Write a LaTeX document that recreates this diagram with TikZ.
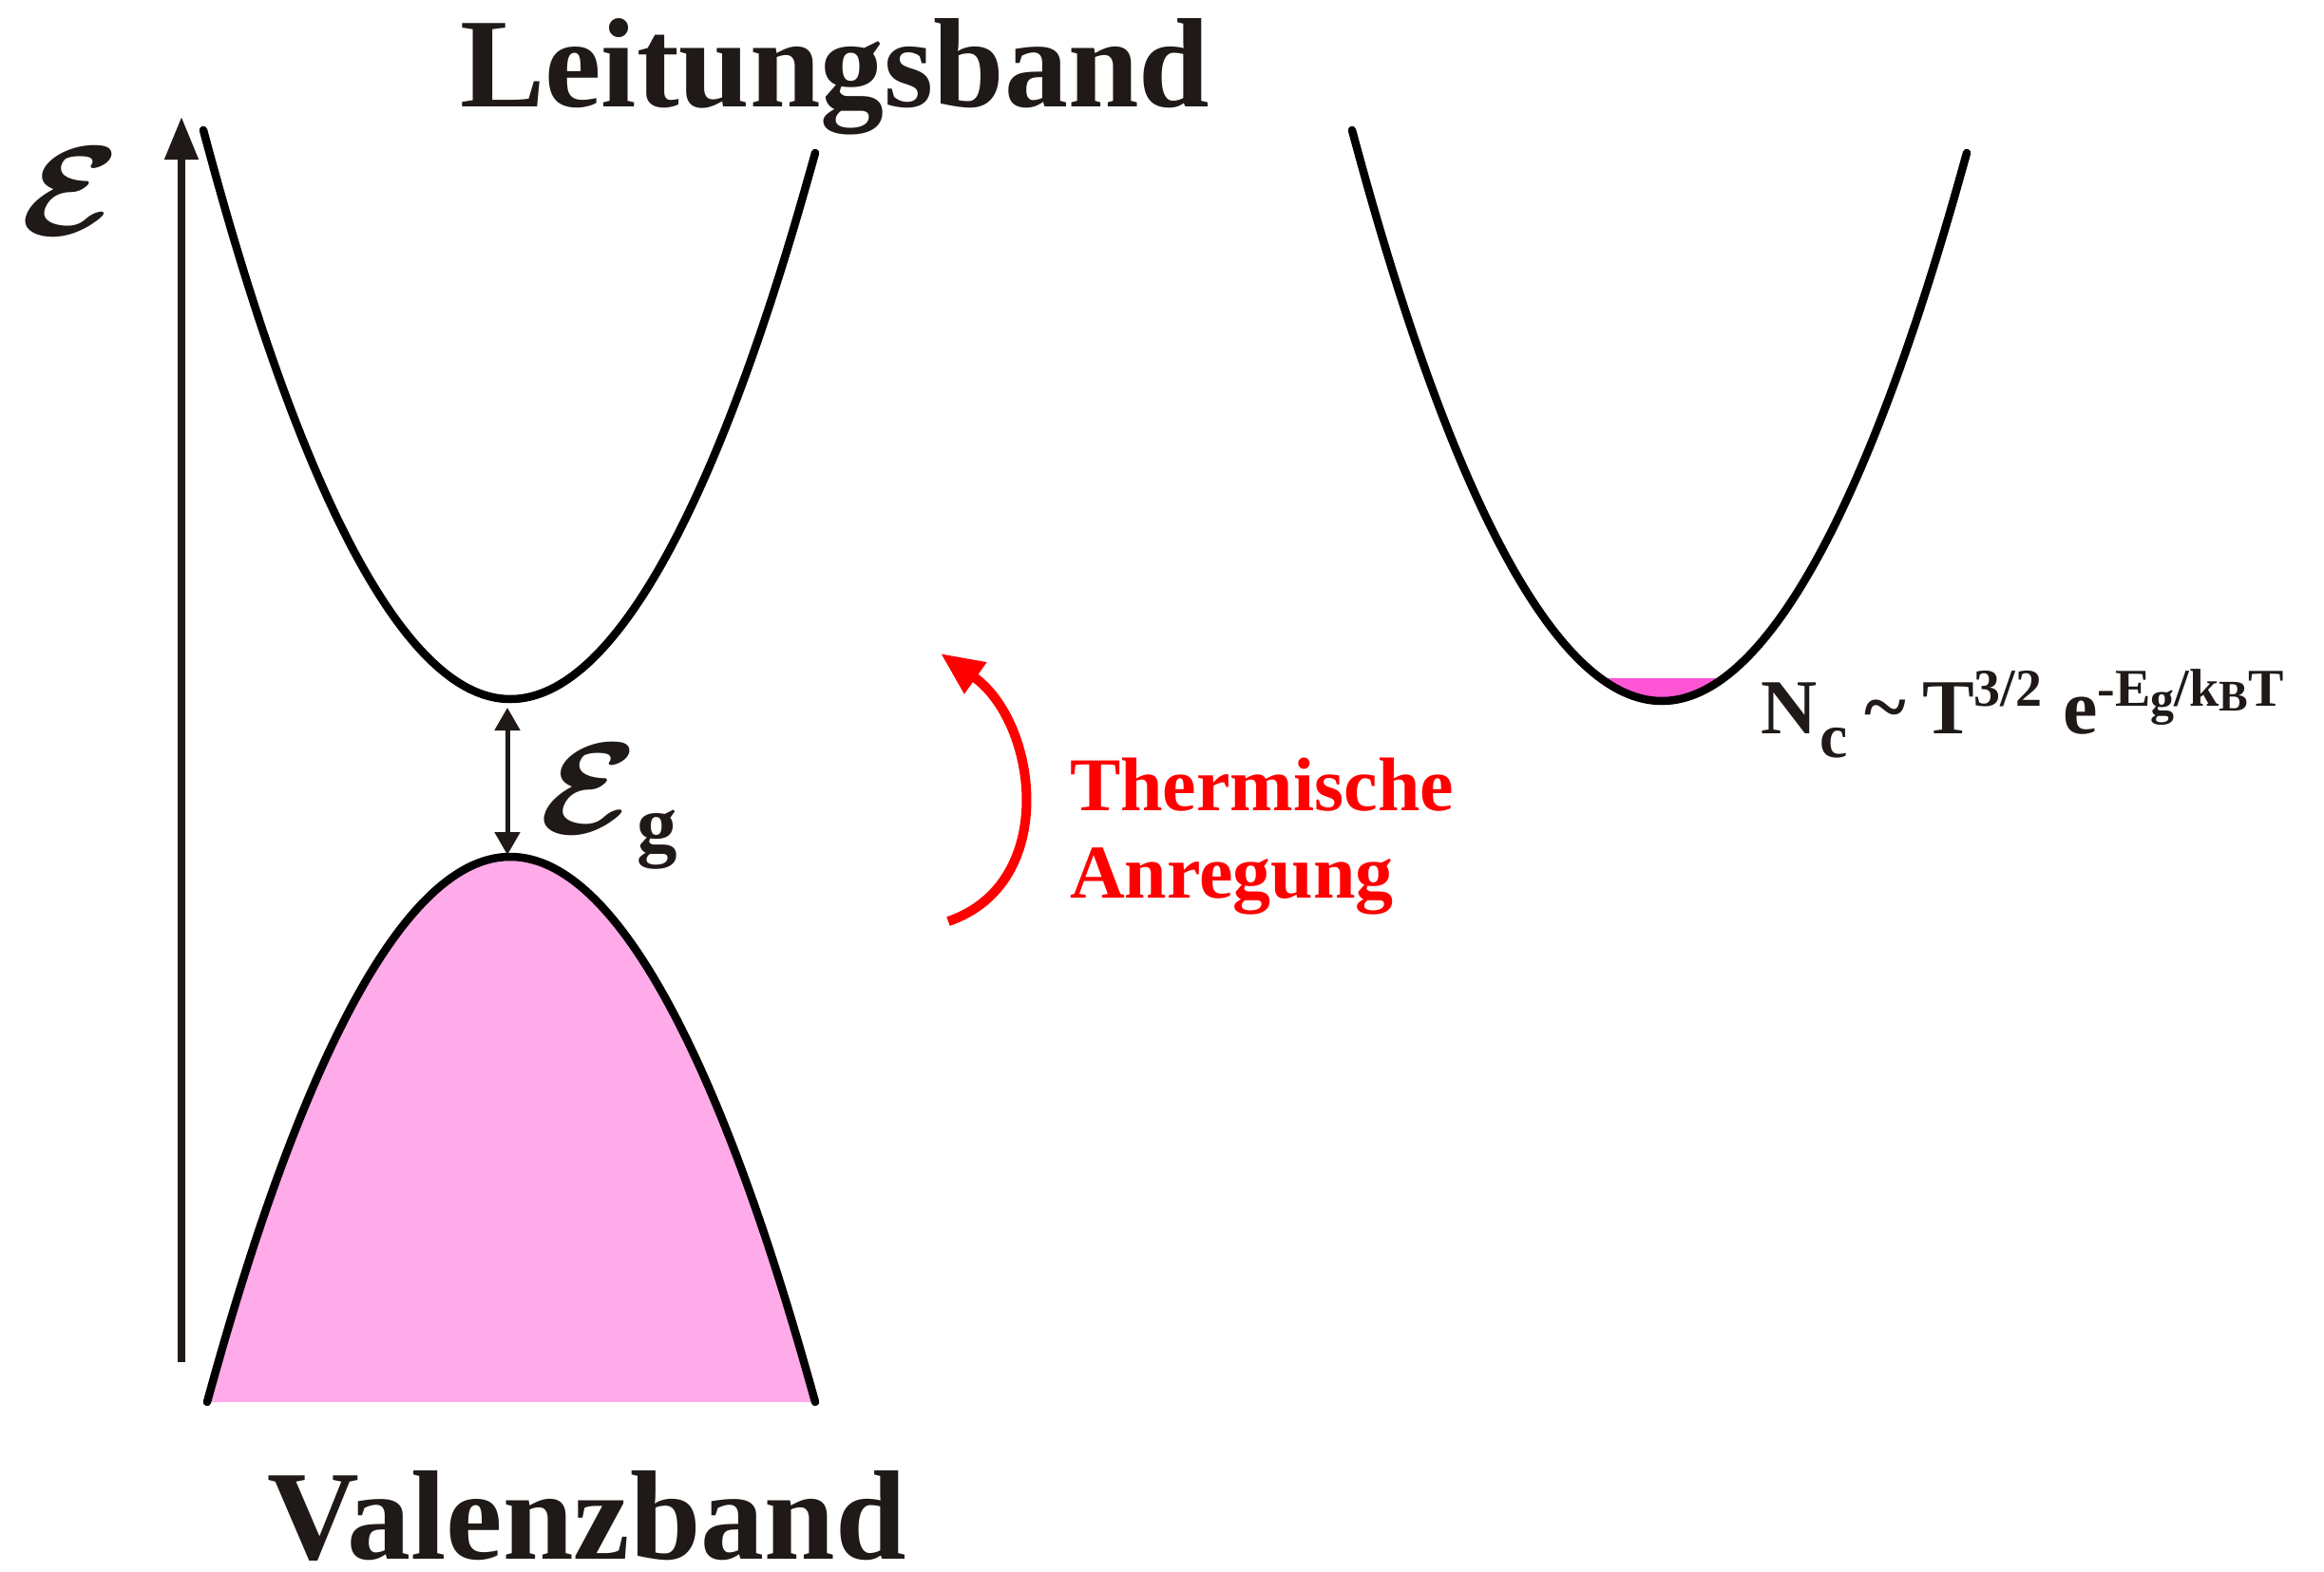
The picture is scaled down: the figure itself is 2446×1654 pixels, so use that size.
\documentclass[tikz,border=0pt]{standalone}
\usepackage{amsmath,bm}
\usepackage{fontspec}
\setmainfont{Liberation Serif}
\usetikzlibrary{arrows.meta}
\definecolor{ink}{RGB}{31,26,23}
\definecolor{vbpink}{RGB}{255,170,233}
\definecolor{cbpink}{RGB}{255,85,213}
\newcommand\setfs[1]{\fontsize{#1}{#1}\selectfont}
\tikzset{
  band/.style={draw=black, line width=8.5pt, line cap=round},
  lbl/.style={inner sep=0pt, outer sep=0pt, text=ink, font=\bfseries},
  redlbl/.style={inner sep=0pt, outer sep=0pt, text=red, font=\bfseries\setfs{80}},
}
\begin{document}
\begin{tikzpicture}[x=1pt,y=-1pt]
\useasboundingbox (0,0) rectangle (2446,1654);
% coordinates
\coordinate (cbL) at (214,137);
\coordinate (cbM) at (537,736);
\coordinate (cbR) at (858,161);
\coordinate (vbL) at (218,1476);
\coordinate (vbM) at (537,902);
\coordinate (vbR) at (858,1476);
\coordinate (axB) at (191,1434);
\coordinate (axT) at (191,123);
\coordinate (egT) at (534,745);
\coordinate (egB) at (534,900);
\coordinate (rcL) at (1423,137);
\coordinate (rcM) at (1749,738);
\coordinate (rcR) at (2070,161);
\coordinate (raS) at (998,970);
\coordinate (raE) at (990,688);
% valence band fill
\fill[vbpink] (vbL) parabola bend (vbM) (vbR) -- cycle;
\draw[band] (vbL) parabola bend (vbM) (vbR);
% conduction band
\draw[band] (cbL) parabola bend (cbM) (cbR);
% right conduction band with occupied states
\fill[cbpink] (1685,714) parabola bend (rcM) (1813,714) -- cycle;
\draw[band] (rcL) parabola bend (rcM) (rcR);
% energy axis
\draw[draw=ink, fill=ink, line width=8pt, -{Triangle[length=45pt,width=34pt]}] (axB) -- (axT);
% gap arrow
\draw[draw=ink, fill=ink, line width=5pt, {Triangle[length=24pt,width=26pt]}-{Triangle[length=24pt,width=26pt]}] (egT) -- (egB);
% thermal excitation arrow
\draw[red, line width=10pt, -{Triangle[length=45pt,width=38pt]}] (raS) .. controls (1115,930) and (1092,760) .. (raE);
% labels
\node[lbl, anchor=base west, font=\bfseries\setfs{134}] (lb) at (484,112) {Leitungsband};
\node[lbl, anchor=base west, font=\bfseries\setfs{134}] (vb) at (281,1641) {Valenzband};
\node[lbl, anchor=south west] (E) at (21,247) {\resizebox{106pt}{92pt}{$\boldsymbol{\mathcal{E}}$}};
\node[lbl, anchor=south west] (Eg) at (567,877) {\resizebox{105pt}{94pt}{$\boldsymbol{\mathcal{E}}$}};
\node[lbl, anchor=base west, font=\bfseries\setfs{85}] (g) at (670,896) {g};
\node[redlbl, anchor=base west] (th) at (1126,853) {Thermische};
\node[redlbl, anchor=base west] (an) at (1126,945) {Anregung};
\node[lbl, anchor=base west] (nc) at (1853,772) {{\setfs{82}N}\hspace{3pt}\raisebox{-25pt}{\setfs{66}c}\hspace{18pt}{\setfs{84}\textasciitilde}\hspace{17pt}{\setfs{82}T}\raisebox{29pt}{\setfs{56}3/2}\hspace{22pt}{\setfs{82}e}\raisebox{29pt}{\setfs{56}-E\raisebox{-9pt}{\setfs{50}g}/k\raisebox{-5pt}{\setfs{46}B}T}};
\end{tikzpicture}
\end{document}
